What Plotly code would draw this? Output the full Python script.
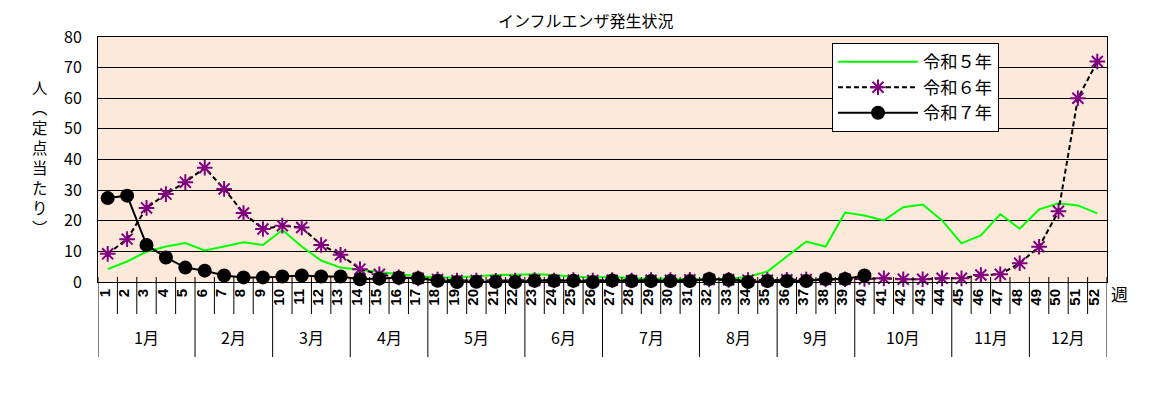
import plotly.graph_objects as go

weeks = list(range(1, 53))
week_labels = [str(w) for w in weeks]

months = ["1月", "2月", "3月", "4月", "5月", "6月", "7月", "8月", "9月", "10月", "11月", "12月"]
month_week_counts = [5, 4, 4, 4, 5, 4, 5, 4, 4, 5, 4, 4]

r5 = [4.2, 6.7, 9.9, 11.6, 12.7, 10.3, 11.6, 13.0, 12.1, 17.0, 11.6, 7.0, 4.7, 3.9, 3.1,
      2.5, 2.0, 1.5, 1.5, 2.0, 2.3, 2.4, 2.5, 2.3, 1.7, 1.5, 1.7, 1.2, 1.0, 1.0, 1.0, 1.0,
      1.0, 1.7, 3.4, 8.3, 13.2, 11.6, 22.7, 21.7, 20.1, 24.4, 25.3, 20.1, 12.6, 15.2, 22.2,
      17.4, 23.7, 25.7, 25.0, 22.4]
r6 = [9.2, 14.0, 24.2, 28.7, 32.6, 37.3, 30.4, 22.5, 17.3, 18.4, 17.8, 12.1, 8.9, 4.2, 2.5,
      1.5, 1.2, 0.8, 0.5, 0.5, 0.4, 0.5, 0.6, 0.5, 0.6, 0.5, 0.6, 0.5, 0.6, 0.6, 0.7, 0.8,
      0.7, 0.6, 0.6, 0.7, 0.8, 0.8, 0.9, 1.0, 1.2, 0.9, 0.9, 1.2, 1.2, 2.3, 2.5, 6.1, 11.5,
      23.1, 60.0, 72.0]
r7 = [27.4, 28.2, 12.1, 8.0, 4.7, 3.7, 2.1, 1.5, 1.5, 1.8, 2.1, 1.8, 1.8, 0.9, 1.1,
      1.4, 1.2, 0.4, 0.0, 0.1, 0.1, 0.0, 0.4, 0.4, 0.4, 0.0, 0.5, 0.3, 0.3, 0.3, 0.3, 1.0,
      0.7, 0.0, 0.3, 0.3, 0.3, 1.0, 1.0, 2.1] + [None] * 12

series_names = ["令和５年", "令和６年", "令和７年"]
title_text = "インフルエンザ発生状況"
y_title_chars = ["人", "︵", "定", "点", "当", "た", "り", "︶"]
x_unit = "週"

FONT = "Noto Sans CJK JP"
OFF = 8  # browser body margin
W, H = 1149 - OFF, 395 - OFF
# plot area in page pixels: x 98..1107, y 37..282
L = 98 - OFF
R = W - (1107 - OFF)
T = 37 - OFF
B = H - (282 - OFF)
PH = H - T - B
PW = W - L - R


def py(page_y):
    return (H - B - (page_y - OFF)) / PH


def pxx(page_x):
    return (page_x - OFF - L) / PW


fig = go.Figure()
fig.add_trace(go.Scatter(x=weeks, y=r5, name=series_names[0], mode="lines",
                         line=dict(color="#00FF00", width=2), cliponaxis=False))
fig.add_trace(go.Scatter(x=weeks, y=r6, name=series_names[1], mode="lines+markers",
                         line=dict(color="black", width=2, dash="5px,3px"),
                         marker=dict(symbol="asterisk-open", size=13, color="#800080",
                                     line=dict(color="#800080", width=2)),
                         cliponaxis=False))
fig.add_trace(go.Scatter(x=weeks, y=r7, name=series_names[2], mode="lines+markers",
                         line=dict(color="black", width=2),
                         marker=dict(symbol="circle", size=14, color="black"),
                         cliponaxis=False))

shapes = []
month_bounds = [0.5]
acc = 0.5
for c in month_week_counts:
    acc += c
    month_bounds.append(acc)
for i in range(len(weeks) + 1):
    xb = i + 0.5
    y1 = py(357) if xb in month_bounds else py(314)
    shapes.append(dict(type="line", xref="x", yref="paper", x0=xb, x1=xb,
                       y0=py(277), y1=y1, line=dict(color="black", width=1)))

annotations = []
start = 1
for m, c in zip(months, month_week_counts):
    center = start + (c - 1) / 2
    annotations.append(dict(text=m, x=center, xref="x", y=py(337), yref="paper",
                            showarrow=False, font=dict(family=FONT, size=16, color="black"),
                            xanchor="center", yanchor="middle"))
    start += c

annotations.append(dict(text=x_unit, x=pxx(1119), xref="paper", y=py(293), yref="paper",
                        showarrow=False, font=dict(family=FONT, size=17, color="black"),
                        xanchor="center", yanchor="middle"))
annotations.append(dict(text=title_text, x=pxx(586), xref="paper", y=py(20),
                        yref="paper", showarrow=False,
                        font=dict(family=FONT, size=16, color="black"),
                        xanchor="center", yanchor="middle"))
annotations.append(dict(text="<br>".join(y_title_chars), x=pxx(40), xref="paper",
                        y=py(157), yref="paper", showarrow=False,
                        font=dict(family=FONT, size=15.4, color="black"),
                        xanchor="center", yanchor="middle", align="center"))

fig.update_layout(
    width=W, height=H,
    margin=dict(l=L, r=R, t=T, b=B, pad=0, autoexpand=False),
    paper_bgcolor="white",
    plot_bgcolor="#FDE9D9",
    showlegend=True,
    legend=dict(x=pxx(832), y=py(43), xanchor="left", yanchor="top",
                bgcolor="white", bordercolor="black", borderwidth=1,
                font=dict(family=FONT, size=17.3, color="black"),
                itemwidth=80, tracegroupgap=0),
    xaxis=dict(range=[0.5, 52.5], tickmode="array", tickvals=weeks, ticktext=week_labels,
               tickangle=-90, ticks="", showgrid=False, zeroline=False,
               showline=True, linecolor="black", linewidth=1, mirror=True,
               ticklabelshift=-3, automargin=False,
               tickfont=dict(family="Liberation Sans", size=15, color="black", weight="bold")),
    yaxis=dict(range=[0, 80], dtick=10, showgrid=True, gridcolor="black", gridwidth=1,
               zeroline=False, showline=True, linecolor="black", linewidth=1, mirror=True,
               ticks="", ticklabelstandoff=12, automargin=False,
               tickfont=dict(family=FONT, size=16, color="black")),
    shapes=shapes,
    annotations=annotations,
)

fig.write_html("out.html")
